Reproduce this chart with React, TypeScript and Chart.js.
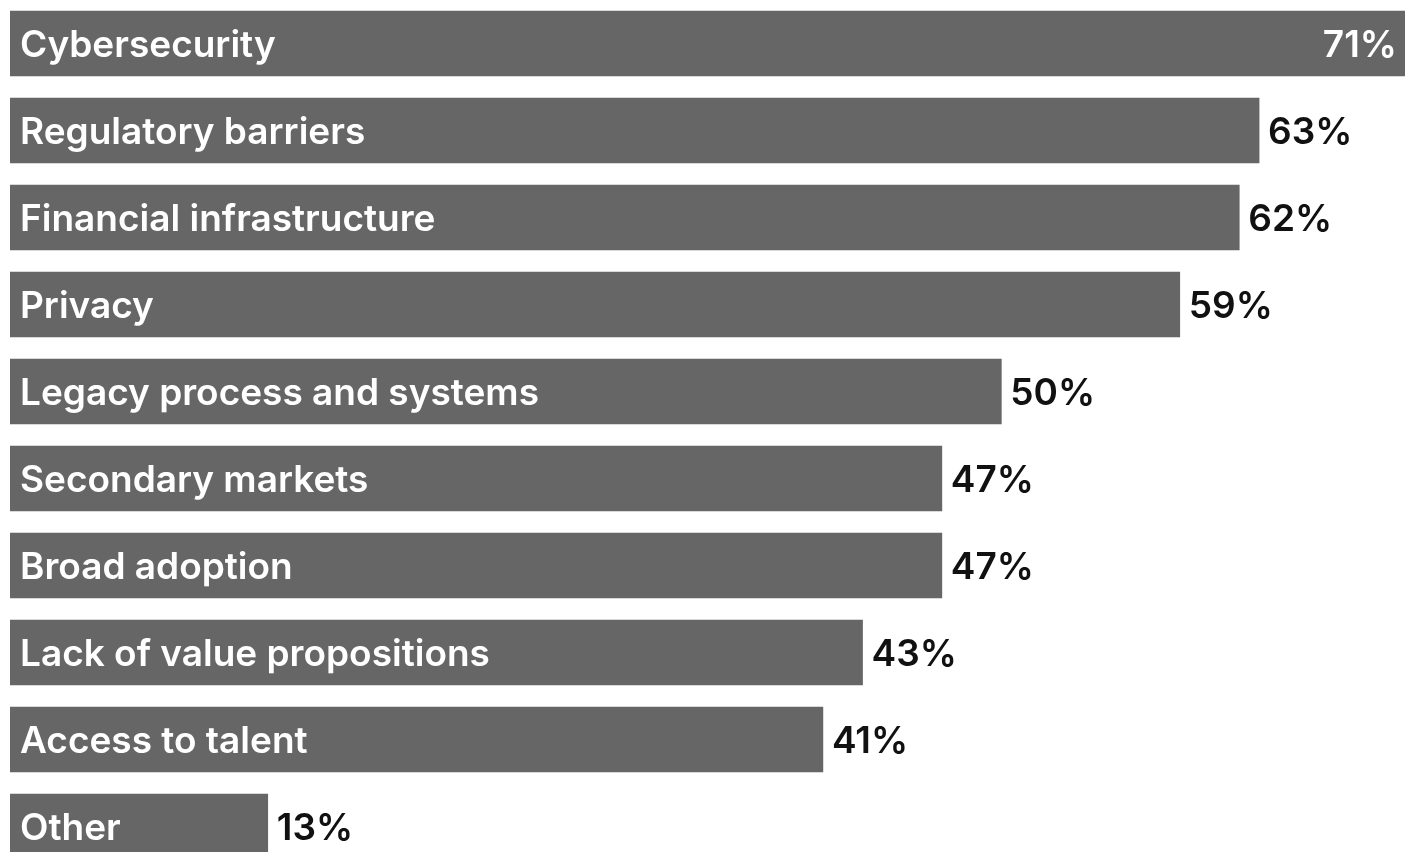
import React, { useEffect, useRef } from "react";
import { Chart, registerables } from "chart.js";

Chart.register(...registerables);

const categories = [
  "Cybersecurity",
  "Regulatory barriers",
  "Financial infrastructure",
  "Privacy",
  "Legacy process and systems",
  "Secondary markets",
  "Broad adoption",
  "Lack of value propositions",
  "Access to talent",
  "Other",
];
const values = [71, 63, 62, 59, 50, 47, 47, 43, 41, 13];
const valueLabels = values.map((v) => `${v}%`);

const VISIBLE_W = 1405;
const FONT = "600 37px Inter, 'Open Sans', sans-serif";

const labelPlugin = {
  id: "barLabels",
  afterDatasetsDraw(chart: any) {
    const ctx = chart.ctx;
    const meta = chart.getDatasetMeta(0);
    ctx.save();
    ctx.font = FONT;
    const capH = ctx.measureText("H").actualBoundingBoxAscent;
    meta.data.forEach((bar: any, i: number) => {
      const y = bar.y + capH / 2;
      ctx.textBaseline = "alphabetic";
      ctx.fillStyle = "#ffffff";
      ctx.textAlign = "left";
      ctx.fillText(categories[i], bar.base + 10, y);
      const txt = valueLabels[i];
      const w = ctx.measureText(txt).width;
      if (bar.x + 9 + w > VISIBLE_W) {
        ctx.textAlign = "right";
        ctx.fillStyle = "#ffffff";
        ctx.fillText(txt, Math.min(bar.x, VISIBLE_W) - 8, y);
      } else {
        ctx.textAlign = "left";
        ctx.fillStyle = "#111111";
        ctx.fillText(txt, bar.x + 9, y);
      }
    });
    ctx.restore();
  },
};

export default function App() {
  const ref = useRef<HTMLCanvasElement | null>(null);
  useEffect(() => {
    document.body.style.margin = "0";
    const chart = new Chart(ref.current!, {
      type: "bar",
      data: {
        labels: categories,
        datasets: [
          {
            data: values,
            backgroundColor: "#666666",
            borderWidth: 0,
            barThickness: 65,
          },
        ],
      },
      options: {
        indexAxis: "y",
        responsive: false,
        animation: false,
        devicePixelRatio: 1,
        layout: { padding: { left: 10, right: 0, top: 0, bottom: 0 } },
        plugins: { legend: { display: false }, tooltip: { enabled: false } },
        scales: {
          x: { min: 0, max: 75, display: false, grid: { display: false } },
          y: { display: false, grid: { display: false } },
        },
      },
      plugins: [labelPlugin],
    });
    return () => chart.destroy();
  }, []);
  return (
    <div
      style={{
        position: "absolute",
        left: 0,
        top: 0,
        width: VISIBLE_W,
        height: 852,
        overflow: "hidden",
        background: "#fff",
      }}
    >
      <canvas ref={ref} width={1497} height={870} style={{ width: 1497, height: 870 }} />
    </div>
  );
}
